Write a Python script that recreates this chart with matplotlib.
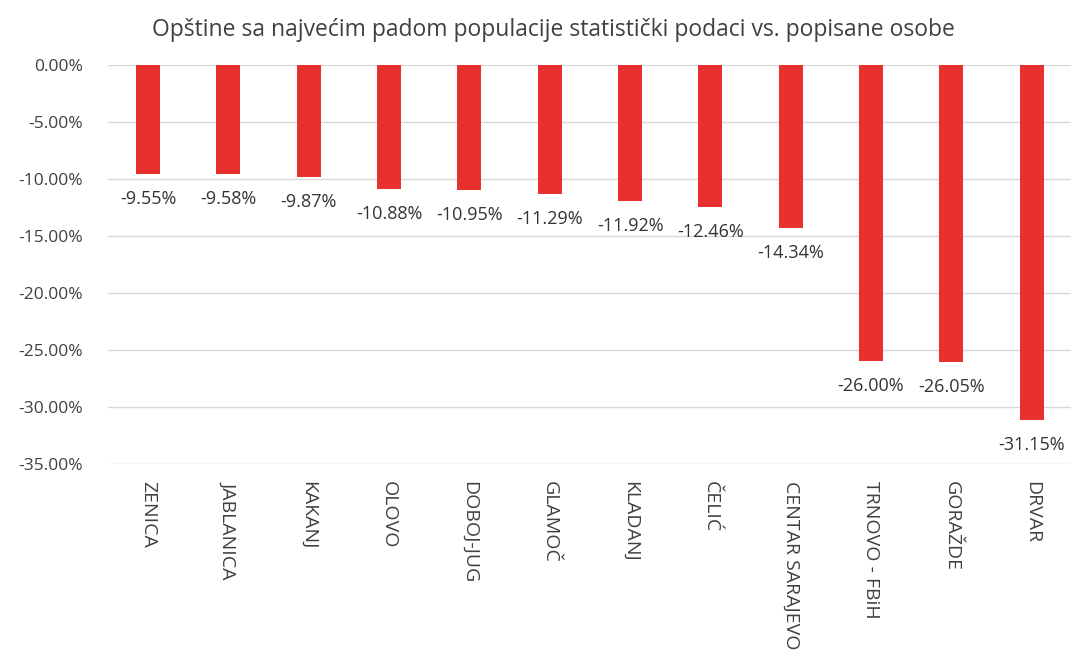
import matplotlib.pyplot as plt
from matplotlib.ticker import FuncFormatter

plt.rcParams['font.family'] = ['Open Sans', 'DejaVu Sans']

opstine = ["ZENICA", "JABLANICA", "KAKANJ", "OLOVO", "DOBOJ-JUG", "GLAMOČ",
           "KLADANJ", "ČELIĆ", "CENTAR SARAJEVO", "TRNOVO - FBiH", "GORAŽDE", "DRVAR"]
pad = [-9.55, -9.58, -9.87, -10.88, -10.95, -11.29,
       -11.92, -12.46, -14.34, -26.00, -26.05, -31.15]

fig = plt.figure(figsize=(10.71, 6.51), dpi=100)
ax = fig.add_axes([0.1008, 0.2873, 0.9, 0.6129])

x = range(len(opstine))
bars = ax.bar(x, pad, width=0.30, color="#E8302E", zorder=3)

for xi, v in zip(x, pad):
    ax.annotate(f"{v:.2f}%", (xi, v), xytext=(0, -11.5), textcoords="offset points",
                ha="center", va="top", fontsize=13, color="#333333")

ax.set_ylim(-35, 0)
ax.set_xlim(-0.5, len(opstine) - 0.5)
ax.set_yticks(range(-35, 1, 5))
ax.yaxis.set_major_formatter(FuncFormatter(lambda v, p: f"{v:.2f}%"))
ax.grid(True, axis="y", color="#D9D9D9", linewidth=1, zorder=0)
for s in ax.spines.values():
    s.set_visible(False)
ax.tick_params(axis="both", length=0, labelcolor="#404040")
ax.tick_params(axis="y", pad=18, labelsize=12.5)
ax.set_xticks(list(x))
ax.set_xticklabels(opstine, rotation=270, va="top", ha="center")
ax.tick_params(axis="x", pad=12, labelsize=14)

fig.suptitle("Opštine sa najvećim padom populacije statistički podaci vs. popisane osobe",
             x=0.517, y=0.972, fontsize=16.5, color="#404040")

plt.savefig("out.png", dpi=100)
